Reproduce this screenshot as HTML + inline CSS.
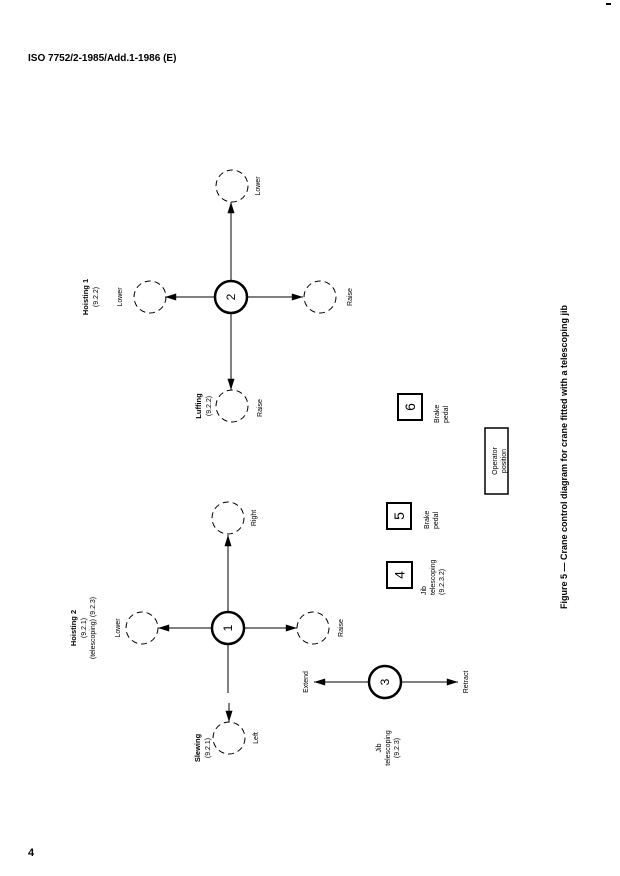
<!DOCTYPE html>
<html><head><meta charset="utf-8"><style>
html,body{margin:0;padding:0;background:#fff;}
svg{display:block;font-family:"Liberation Sans",sans-serif;}
</style></head><body>
<svg width="620" height="876" viewBox="0 0 620 876" xmlns="http://www.w3.org/2000/svg">
<defs>
<marker id="a" viewBox="0 0 10 10" refX="10" refY="5" markerWidth="10" markerHeight="6" orient="auto" markerUnits="userSpaceOnUse"><path d="M0,0 L10,5 L0,10 z" fill="#000"/></marker>
<marker id="b" viewBox="0 0 16 10" refX="16" refY="5" markerWidth="16" markerHeight="7" orient="auto" markerUnits="userSpaceOnUse"><path d="M0,0 L16,5 L0,10 z" fill="#000"/></marker>
</defs>
<rect x="606" y="3" width="5" height="2" fill="#000"/>
<text x="28" y="61" font-size="10" font-weight="bold">ISO 7752/2-1985/Add.1-1986 (E)</text>
<text x="28" y="856" font-size="11" font-weight="bold">4</text>

<g stroke="#000" stroke-width="1" fill="none">
<!-- group 2 -->
<line x1="231" y1="280" x2="231" y2="202" marker-end="url(#b)"/>
<line x1="214" y1="297" x2="165" y2="297" marker-end="url(#b)"/>
<line x1="248" y1="297" x2="303" y2="297" marker-end="url(#b)"/>
<line x1="231" y1="314" x2="231" y2="390" marker-end="url(#b)"/>
<circle cx="231" cy="297" r="16" stroke-width="2.5"/>
<g stroke-dasharray="6,4"><circle cx="232" cy="186" r="16"/><circle cx="150" cy="297" r="16"/><circle cx="320" cy="297" r="16"/><circle cx="232" cy="406" r="16"/></g>
<!-- group 1 -->
<line x1="228" y1="611" x2="228" y2="535" marker-end="url(#b)"/>
<line x1="211" y1="628" x2="158" y2="628" marker-end="url(#b)"/>
<line x1="245" y1="628" x2="297" y2="628" marker-end="url(#b)"/>
<line x1="228" y1="645" x2="228" y2="693"/>
<line x1="229" y1="703" x2="229" y2="722" marker-end="url(#b)"/>
<circle cx="228" cy="628" r="16" stroke-width="2.5"/>
<g stroke-dasharray="6,4"><circle cx="228" cy="518" r="16"/><circle cx="142" cy="628" r="16"/><circle cx="313" cy="628" r="16"/><circle cx="229" cy="738" r="16"/></g>
<!-- node 3 -->
<line x1="369" y1="682" x2="314" y2="682" marker-end="url(#b)"/>
<line x1="401" y1="682" x2="458" y2="682" marker-end="url(#b)"/>
<circle cx="385" cy="682" r="16" stroke-width="2.5"/>
<!-- boxes -->
<rect x="387" y="562" width="25" height="26" stroke-width="2"/>
<rect x="387" y="503" width="24" height="26" stroke-width="2"/>
<rect x="398" y="394" width="24" height="26" stroke-width="2"/>
<rect x="485" y="428" width="23" height="66" stroke-width="1.5"/>
</g>

<g fill="#000" font-size="12" text-anchor="middle" dominant-baseline="central">
<text transform="translate(231,297) rotate(-90)">2</text>
<text transform="translate(228,628) rotate(-90)">1</text>
<text transform="translate(385,682) rotate(-90)">3</text>
<text transform="translate(399.5,575) rotate(-90)" font-size="14">4</text>
<text transform="translate(399,516) rotate(-90)" font-size="14">5</text>
<text transform="translate(410,407) rotate(-90)" font-size="14">6</text>
</g>

<g fill="#000" font-size="7" text-anchor="middle">
<text transform="translate(88,297) rotate(-90)" font-weight="bold" font-size="7.5">Hoisting 1</text>
<text transform="translate(98,297) rotate(-90)">(9.2.2)</text>
<text transform="translate(122,297) rotate(-90)">Lower</text>
<text transform="translate(352,297) rotate(-90)">Raise</text>
<text transform="translate(260,186) rotate(-90)">Lower</text>
<text transform="translate(201,406) rotate(-90)" font-weight="bold" font-size="7.5">Luffing</text>
<text transform="translate(211,406) rotate(-90)">(9.2.2)</text>
<text transform="translate(262,408) rotate(-90)">Raise</text>

<text transform="translate(76,628) rotate(-90)" font-weight="bold" font-size="7.5">Hoisting 2</text>
<text transform="translate(86,628) rotate(-90)">(9.2.1)</text>
<text transform="translate(95,628) rotate(-90)">(telescoping) (9.2.3)</text>
<text transform="translate(120,628) rotate(-90)">Lower</text>
<text transform="translate(343,628) rotate(-90)">Raise</text>
<text transform="translate(256,518) rotate(-90)">Right</text>
<text transform="translate(200,748) rotate(-90)" font-weight="bold" font-size="7.5">Slewing</text>
<text transform="translate(210,748) rotate(-90)">(9.2.1)</text>
<text transform="translate(258,738) rotate(-90)">Left</text>
<text transform="translate(308,682) rotate(-90)">Extend</text>
<text transform="translate(468,682) rotate(-90)">Retract</text>
<text transform="translate(381,748) rotate(-90)">Jib</text>
<text transform="translate(390,748) rotate(-90)">telescoping</text>
<text transform="translate(399,748) rotate(-90)">(9.2.3)</text>
<text transform="translate(497,461) rotate(-90)">Operator</text>
<text transform="translate(506,461) rotate(-90)">position</text>
</g>
<g fill="#000" font-size="7" text-anchor="start">
<text transform="translate(426,595) rotate(-90)">Jib</text>
<text transform="translate(435,595) rotate(-90)">telescoping</text>
<text transform="translate(444,595) rotate(-90)">(9.2.3.2)</text>
<text transform="translate(429,529) rotate(-90)">Brake</text>
<text transform="translate(438,529) rotate(-90)">pedal</text>
<text transform="translate(439,423) rotate(-90)">Brake</text>
<text transform="translate(448,423) rotate(-90)">pedal</text>
</g>
<text transform="translate(567,457) rotate(-90)" font-size="9" font-weight="bold" text-anchor="middle">Figure 5 — Crane control diagram for crane fitted with a telescoping jib</text>
</svg>
</body></html>
